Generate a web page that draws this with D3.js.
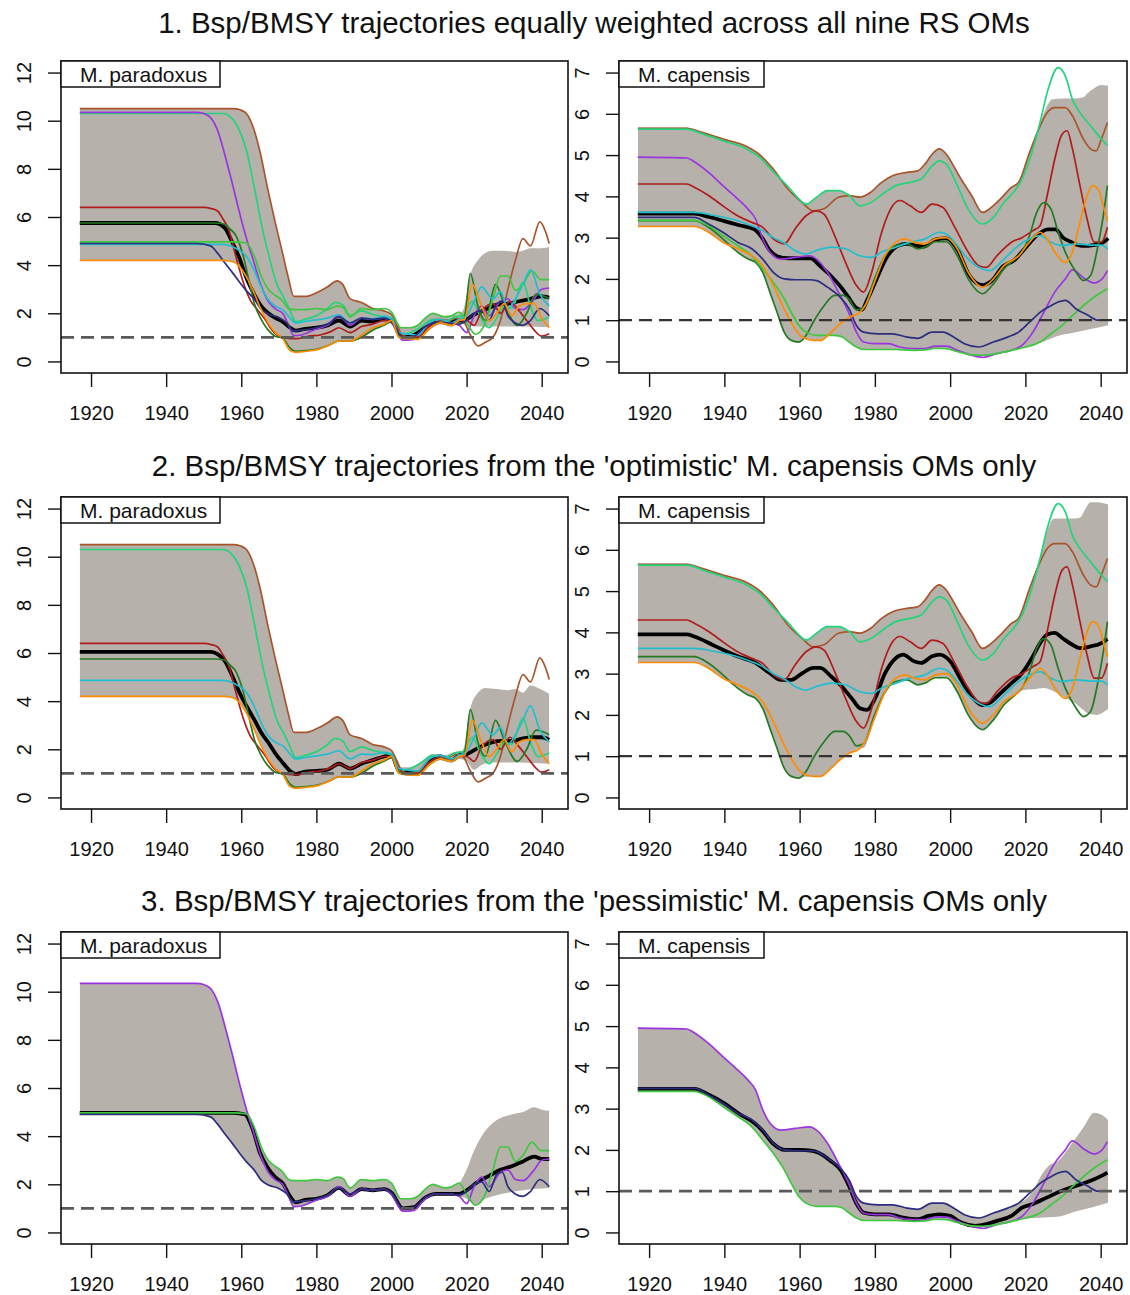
<!DOCTYPE html>
<html>
<head>
<meta charset="utf-8">
<script src="https://cdn.jsdelivr.net/npm/d3@7"></script>
<style>
body { margin: 0; background: #fff; }
svg { display: block; }
text { font-family: "Liberation Sans", Arial, sans-serif; fill: #111; }
</style>
</head>
<body>
<svg id="chart" width="1130" height="1295"></svg>
<script>
// Bsp/BMSY trajectories, M. paradoxus (left) and M. capensis (right), 3 OM sets.
// Each OM trajectory is [year, Bsp/BMSY].

var titles = [
	"1. Bsp/BMSY trajectories equally weighted across all nine RS OMs",
	"2. Bsp/BMSY trajectories from the 'optimistic' M. capensis OMs only",
	"3. Bsp/BMSY trajectories from the 'pessimistic' M. capensis OMs only"
];
var species = ['M. paradoxus', 'M. capensis'];
var xTicks = [1920, 1940, 1960, 1980, 2000, 2020, 2040];
var parTicks = [0, 2, 4, 6, 8, 10, 12];
var capTicks = [0, 1, 2, 3, 4, 5, 6, 7];
var omNames = ['brown', 'spring', 'purple', 'darkred', 'darkgreen', 'lime', 'cyan', 'navy', 'orange'];
var optimisticOMs = ['brown', 'spring', 'darkred', 'darkgreen', 'cyan', 'orange'];
var pessimisticOMs = ['purple', 'lime', 'navy'];

// ---- M. paradoxus ----
var parBrown = [[1917,10.5],[1958,10.5],[1961,10.35],[1963,9.8],[1965,8.7],[1967,7.2],[1969,5.8],[1971,4.5],[1972.5,3.5],[1974,2.7],[1977,2.7],[1980,2.85],[1983,3.1],[1985.5,3.35],[1987,3.2],[1989,2.6],[1992,2.45],[1995,2.2],[1998,2.1],[2000,1.95],[2001.5,1.5],[2003,1.05],[2005,1.0],[2007,1.05],[2009,1.4],[2011,1.7],[2013,1.75],[2015,1.65],[2017,1.8],[2019,1.7],[2021,1.1],[2023,0.65],[2025,0.8],[2027,1.0],[2029,1.7],[2031,3.0],[2033,4.2],[2035,5.1],[2037,4.8],[2039.5,5.8],[2041,5.4],[2042,4.9]];
var parSpring = [[1917,10.3],[1955,10.3],[1957.5,10.1],[1959.5,9.6],[1961.5,8.7],[1963.5,7.2],[1965.5,5.6],[1967.5,4.3],[1969.5,3.2],[1971.5,2.6],[1973,2.1],[1974.5,1.65],[1977,1.75],[1980,1.9],[1983,2.2],[1985,2.45],[1987,2.35],[1989,1.9],[1992,2.1],[1995,1.95],[1998,1.85],[2000,1.75],[2002,1.1],[2005,1.2],[2008,1.45],[2011,1.75],[2014,1.65],[2017,1.85],[2019,1.9],[2021.5,2.5],[2023.5,1.9],[2026,1.4],[2028,1.8],[2030,2.3],[2032,2.2],[2035,3.3],[2037,2.3],[2039,1.7],[2042,1.85]];
var parPurple = [[1917,10.35],[1948,10.35],[1950,10.3],[1952,10.1],[1953.7,9.6],[1955.6,8.6],[1957.6,7.4],[1959.5,6.2],[1961.4,5.1],[1963.4,4.1],[1965.3,3.15],[1967.2,2.5],[1969.2,2.17],[1971,2.0],[1972.6,1.5],[1974,1.07],[1976,1.1],[1980,1.35],[1983,1.5],[1986,1.9],[1989,1.5],[1992,1.8],[1995,1.75],[1998,1.8],[2000,1.6],[2003,0.88],[2006,0.92],[2009,1.4],[2012,1.6],[2015,1.6],[2018,1.5],[2020,1.2],[2022,1.9],[2024,2.3],[2026,1.9],[2029,2.5],[2031,2.6],[2033,2.2],[2035,2.15],[2038,2.6],[2040,3.0],[2042,3.05]];
var parDarkRed = [[1917,6.4],[1950,6.4],[1952,6.35],[1953.7,6.25],[1955,5.95],[1956.6,5.5],[1958.5,4.4],[1960.5,3.3],[1962.4,2.55],[1964.3,2.15],[1966.3,1.75],[1968.2,1.3],[1970,1.05],[1973,0.95],[1975,0.95],[1978,1.05],[1981,1.1],[1984,1.25],[1986,1.4],[1989,1.2],[1992,1.45],[1995,1.55],[1998,1.7],[2000,1.7],[2002,1.2],[2004,1.0],[2007,1.0],[2010,1.45],[2013,1.7],[2016,1.55],[2018,1.7],[2020,1.7],[2022,1.5],[2024,2.1],[2027,2.4],[2029,2.0],[2031.5,2.5],[2034,2.1],[2036,1.7],[2038,1.3],[2040,1.05],[2042,1.15]];
var parDarkGreen = [[1917,5.75],[1953,5.75],[1955.6,5.7],[1957,5.5],[1958.5,5.25],[1960.5,4.4],[1962.4,3.1],[1963.5,2.4],[1965.3,1.75],[1967.2,1.3],[1969,1.05],[1971,0.97],[1973,0.55],[1974.5,0.42],[1977,0.45],[1980,0.5],[1983,0.65],[1986,0.85],[1989,0.85],[1992,1.0],[1995,1.3],[1998,1.5],[2000,1.65],[2002,1.05],[2004,0.95],[2007,0.95],[2010,1.35],[2013,1.6],[2016,1.5],[2018,1.7],[2019.5,1.9],[2021,3.65],[2023,2.3],[2025,1.7],[2027.7,3.2],[2030,2.4],[2033.5,1.5],[2036,2.0],[2038.5,2.8],[2040,2.75],[2042,2.6]];
var parLime = [[1917,4.97],[1958,4.97],[1961.4,4.92],[1963.4,4.4],[1965.3,3.56],[1967.2,3.0],[1969.2,2.73],[1971,2.52],[1972.6,2.2],[1974,2.15],[1977,2.15],[1980,2.2],[1983,2.15],[1985.5,2.3],[1987,2.25],[1989,1.85],[1992,2.2],[1995,2.15],[1998,2.2],[2000,2.05],[2002.5,1.4],[2005,1.4],[2007,1.5],[2009,1.8],[2011,2.0],[2014,1.85],[2016,1.9],[2018,2.05],[2020,1.6],[2022.4,1.13],[2025,1.6],[2027,2.6],[2029,3.55],[2031,3.55],[2033,2.95],[2035,3.2],[2037.4,3.75],[2039.8,3.4],[2042,3.4]];
var parCyan = [[1917,4.86],[1955,4.86],[1958.5,4.7],[1961.4,4.36],[1963.4,3.8],[1965.3,3.1],[1967.2,2.56],[1969.2,2.28],[1971,2.15],[1973,1.8],[1974.5,1.6],[1977,1.66],[1980,1.73],[1983,1.8],[1986,1.94],[1989,1.6],[1992,1.8],[1995,1.78],[1998,1.87],[2000,1.8],[2002,1.2],[2004,1.15],[2007,1.1],[2010,1.6],[2013,1.75],[2016,1.6],[2018,1.75],[2020,1.9],[2022,2.5],[2024,3.1],[2027,2.6],[2029,2.9],[2031,2.2],[2033,2.6],[2035,3.2],[2037,3.8],[2039.5,2.8],[2042,2.3]];
var parNavy = [[1917,4.9],[1948,4.9],[1951.8,4.8],[1953.7,4.5],[1955.6,4.1],[1957.6,3.7],[1959.5,3.3],[1961.4,2.93],[1963.4,2.6],[1965.3,2.17],[1967.2,1.97],[1970,1.83],[1972,1.62],[1974,1.27],[1976,1.3],[1980,1.4],[1983,1.55],[1986,1.85],[1989,1.6],[1992,1.8],[1995,1.75],[1998,1.8],[2000,1.65],[2003,1.0],[2006,1.05],[2009,1.45],[2012,1.6],[2015,1.6],[2018,1.55],[2020,1.7],[2022,2.0],[2024,2.1],[2026,1.7],[2028,2.4],[2029.5,2.5],[2031,1.9],[2033,1.6],[2035,1.5],[2037,1.7],[2039.5,2.2],[2042,1.9]];
var parOrange = [[1917,4.2],[1955,4.2],[1957.6,4.15],[1959.5,3.95],[1961.4,3.5],[1963.4,2.85],[1965.3,2.15],[1967.2,1.6],[1969.2,1.18],[1971,0.97],[1973,0.45],[1974.5,0.38],[1977,0.42],[1980,0.48],[1983,0.65],[1986,0.85],[1989,0.85],[1992,1.1],[1995,1.4],[1998,1.55],[2000,1.7],[2002,1.0],[2004,0.95],[2007,0.92],[2010,1.35],[2013,1.6],[2016,1.5],[2018,1.7],[2019.5,1.75],[2021.5,3.2],[2024,2.3],[2026,1.7],[2028,2.0],[2030,2.4],[2032,1.9],[2034,2.3],[2036,2.4],[2038,2.4],[2040,1.8],[2042,1.4]];

var parMedAll = [[1917,5.75],[1953,5.75],[1955.6,5.55],[1957.6,4.95],[1959.5,4.3],[1961.4,3.45],[1963.4,2.8],[1965.3,2.3],[1967.2,2.0],[1969.2,1.8],[1971,1.65],[1973,1.4],[1974.5,1.28],[1977,1.35],[1980,1.4],[1983,1.5],[1986,1.7],[1989,1.45],[1992,1.7],[1995,1.65],[1998,1.75],[2000,1.7],[2003,1.0],[2006,1.1],[2009,1.4],[2012,1.65],[2015,1.65],[2018,1.7],[2020,1.75],[2022,1.95],[2025,2.15],[2028,2.35],[2031,2.4],[2034,2.5],[2037,2.6],[2040,2.7],[2042,2.65]];
var parMedOpt = [[1917,6.05],[1952,6.05],[1953.7,5.95],[1955.6,5.67],[1957.6,5.05],[1959.5,4.36],[1961.4,3.8],[1963.4,3.25],[1965.3,2.7],[1967.2,2.28],[1969.2,1.8],[1971,1.45],[1973,1.1],[1974.5,0.97],[1977,1.07],[1980,1.1],[1983,1.15],[1986,1.4],[1989,1.2],[1992,1.4],[1995,1.55],[1998,1.7],[2000,1.75],[2002,1.1],[2004,1.05],[2007,1.0],[2010,1.5],[2013,1.7],[2016,1.55],[2018,1.75],[2020,1.8],[2023,2.05],[2026,2.25],[2029,2.35],[2032,2.35],[2035,2.45],[2038,2.5],[2040,2.5],[2042,2.4]];
var parMedPess = [[1917,4.97],[1958,4.97],[1961,4.9],[1963,4.3],[1965,3.3],[1967,2.7],[1969,2.3],[1971,2.05],[1973,1.5],[1974.5,1.25],[1977,1.35],[1980,1.4],[1983,1.55],[1986,1.85],[1989,1.55],[1992,1.8],[1995,1.75],[1998,1.8],[2000,1.65],[2003,1.0],[2006,1.05],[2009,1.45],[2012,1.6],[2015,1.6],[2018,1.6],[2020,1.75],[2023,2.1],[2026,2.35],[2029,2.6],[2032,2.75],[2035,2.95],[2038,3.15],[2040,3.05],[2042,3.05]];

var parUpAll = [[1917,10.5],[1958,10.5],[1961,10.35],[1963,9.8],[1965,8.7],[1967,7.2],[1969,5.8],[1971,4.5],[1972.5,3.5],[1974,2.7],[1977,2.7],[1980,2.85],[1983,3.1],[1985.5,3.35],[1987,3.2],[1989,2.6],[1992,2.45],[1995,2.2],[1998,2.1],[2000,2.0],[2002,1.45],[2005,1.4],[2007,1.5],[2009,1.8],[2011,2.0],[2014,1.9],[2017,1.95],[2019,2.1],[2021,3.6],[2023,4.2],[2025,4.5],[2027,4.6],[2030,4.6],[2033,4.55],[2035,4.6],[2037,4.7],[2040,4.7],[2042,4.75]];
var parLoAll = [[1917,4.2],[1955,4.2],[1957.5,4.15],[1959.5,3.95],[1961.5,3.5],[1963.5,2.85],[1965.5,2.15],[1967.5,1.6],[1969.5,1.15],[1971,0.95],[1973,0.5],[1974.5,0.38],[1977,0.42],[1980,0.48],[1983,0.65],[1986,0.85],[1989,0.85],[1992,1.0],[1995,1.3],[1998,1.5],[2000,1.6],[2002,1.0],[2004,0.92],[2007,0.9],[2010,1.35],[2013,1.55],[2016,1.45],[2018,1.6],[2020,1.55],[2023,1.45],[2030,1.45],[2036,1.45],[2042,1.42]];
var parUpOpt = [[1917,10.5],[1958,10.5],[1961,10.35],[1963,9.8],[1965,8.7],[1967,7.2],[1969,5.8],[1971,4.5],[1972.5,3.5],[1974,2.7],[1977,2.7],[1980,2.85],[1983,3.1],[1985.5,3.35],[1987,3.2],[1989,2.6],[1992,2.45],[1995,2.2],[1998,2.1],[2000,1.95],[2002,1.25],[2005,1.25],[2008,1.5],[2011,1.8],[2014,1.75],[2017,1.9],[2019,1.95],[2021,3.7],[2023,4.35],[2025,4.55],[2028,4.5],[2031,4.45],[2033,4.5],[2035,4.35],[2037,4.65],[2039,4.55],[2042,4.3]];
var parLoOpt = [[1917,4.2],[1955,4.2],[1957.5,4.15],[1959.5,3.95],[1961.5,3.5],[1963.5,2.85],[1965.5,2.15],[1967.5,1.6],[1969.5,1.15],[1971,0.95],[1973,0.5],[1974.5,0.38],[1977,0.42],[1980,0.48],[1983,0.65],[1986,0.85],[1989,0.85],[1992,1.0],[1995,1.3],[1998,1.5],[2000,1.6],[2002,1.0],[2004,0.92],[2007,0.9],[2010,1.35],[2013,1.55],[2016,1.45],[2018,1.6],[2020,1.5],[2022,1.15],[2024,1.35],[2027,1.45],[2034,1.45],[2042,1.4]];
var parUpPess = [[1917,10.35],[1948,10.35],[1950,10.3],[1952,10.1],[1953.7,9.6],[1955.6,8.6],[1957.6,7.4],[1959.5,6.2],[1961.4,5.1],[1962.5,4.8],[1963.4,4.4],[1965.3,3.56],[1967.2,3.0],[1969.2,2.73],[1971,2.52],[1972.6,2.2],[1974,2.15],[1977,2.15],[1980,2.2],[1983,2.15],[1985.5,2.3],[1987,2.25],[1989,1.85],[1992,2.2],[1995,2.15],[1998,2.2],[2000,2.05],[2002.5,1.4],[2005,1.4],[2007,1.5],[2009,1.8],[2011,2.0],[2014,1.85],[2016,1.9],[2018,2.05],[2020,2.6],[2022,3.4],[2024,4.0],[2026,4.4],[2029,4.75],[2032,4.9],[2035,5.0],[2038,5.2],[2040,5.1],[2042,5.05]];
var parLoPess = [[1917,4.9],[1948,4.9],[1951.8,4.8],[1953.7,4.5],[1955.6,4.1],[1957.6,3.7],[1959.5,3.3],[1961.4,2.93],[1963.4,2.6],[1965.3,2.17],[1967.2,1.97],[1970,1.83],[1972,1.6],[1974,1.05],[1976,1.08],[1980,1.3],[1983,1.45],[1986,1.8],[1989,1.45],[1992,1.75],[1995,1.7],[1998,1.75],[2000,1.55],[2003,0.86],[2006,0.9],[2009,1.35],[2012,1.55],[2015,1.55],[2018,1.5],[2020,1.4],[2022.4,1.13],[2025,1.4],[2028,1.55],[2031,1.65],[2035,1.75],[2038,1.8],[2042,1.85]];

// ---- M. capensis ----
var capBrown = [[1917,5.65],[1930,5.65],[1934,5.55],[1939.6,5.39],[1945.4,5.23],[1949.2,5.02],[1953,4.66],[1956.9,4.18],[1960.7,3.85],[1963.6,3.65],[1966.5,3.7],[1970.3,3.98],[1973.2,4.02],[1976,3.98],[1978.9,4.1],[1981.8,4.34],[1984.7,4.5],[1988.5,4.58],[1991.4,4.62],[1993.3,4.78],[1995.2,5.02],[1997.1,5.15],[1999,5.02],[2000.9,4.74],[2002.9,4.42],[2005.7,4.02],[2008.6,3.61],[2010.5,3.7],[2013.4,3.94],[2016.3,4.22],[2018.2,4.34],[2021.1,5.06],[2023.9,5.7],[2025.8,6.03],[2027.8,6.15],[2030.6,6.15],[2032.5,5.95],[2035.4,5.39],[2037.3,5.15],[2038.8,5.1],[2040.2,5.39],[2041.8,5.79]];
var capSpring = [[1917,5.63],[1930,5.63],[1934,5.52],[1939.6,5.35],[1945.4,5.17],[1949.2,4.96],[1953,4.6],[1956.9,4.24],[1959.8,3.94],[1961.7,3.81],[1964.5,3.98],[1967.4,4.14],[1970.3,4.14],[1973.2,4.02],[1976,3.77],[1978.9,3.85],[1982.7,4.1],[1985.6,4.26],[1989.4,4.34],[1992.3,4.42],[1995.2,4.74],[1997.1,4.86],[1999,4.78],[2001.9,4.26],[2004.8,3.69],[2008.6,3.33],[2011.5,3.49],[2014.3,3.85],[2017.2,4.14],[2019.1,4.42],[2022,5.15],[2023.9,5.79],[2025.8,6.52],[2028.7,7.12],[2030.6,6.92],[2032.5,6.35],[2034.5,6.03],[2037.3,5.71],[2040.2,5.39],[2041.8,5.23]];
var capPurple = [[1917,4.95],[1930,4.93],[1932,4.84],[1935.8,4.58],[1939.6,4.26],[1943.5,3.94],[1946.3,3.69],[1948.3,3.45],[1950.2,2.97],[1952.1,2.65],[1955,2.48],[1958.8,2.52],[1962.6,2.56],[1964.5,2.48],[1967.4,2.16],[1970.3,1.68],[1973.2,1.15],[1975.1,0.71],[1977,0.47],[1979.9,0.43],[1983.7,0.43],[1986.6,0.35],[1990.4,0.31],[1993.3,0.31],[1996.1,0.37],[1999,0.37],[2001.9,0.27],[2005.7,0.15],[2008.6,0.1],[2012.4,0.19],[2016.3,0.27],[2019.1,0.39],[2022,0.71],[2024.9,1.19],[2027.8,1.68],[2030.6,2.0],[2032.5,2.22],[2035.4,2.03],[2038.3,1.9],[2040.2,1.98],[2041.8,2.2]];
var capDarkRed = [[1917,4.3],[1930,4.3],[1932,4.22],[1935.8,4.02],[1939.6,3.77],[1943.5,3.53],[1947.3,3.37],[1950.2,3.25],[1953,2.97],[1955.9,2.85],[1958.8,3.21],[1961.7,3.53],[1964.5,3.65],[1966.5,3.57],[1969.3,3.05],[1972.2,2.4],[1975.1,1.84],[1977,1.68],[1978.9,2.08],[1981.8,3.13],[1984.7,3.77],[1986.6,3.9],[1989.4,3.77],[1992.3,3.61],[1995.2,3.81],[1998.1,3.73],[2001,3.29],[2004.8,2.65],[2007.6,2.32],[2009.6,2.28],[2012.4,2.56],[2016.3,2.89],[2019.1,3.0],[2022,3.17],[2023.9,3.29],[2025.8,4.02],[2027.8,4.9],[2029.7,5.5],[2031.1,5.59],[2032.5,5.15],[2034.5,4.26],[2036.4,3.45],[2038.3,2.89],[2040.2,2.89],[2041.8,3.25]];
var capDarkGreen = [[1917,3.41],[1932,3.41],[1935.8,3.25],[1939.6,2.97],[1943.5,2.65],[1946.3,2.48],[1948.3,2.4],[1950.2,2.16],[1952.1,1.68],[1954,1.19],[1955.9,0.71],[1957.8,0.51],[1959.8,0.47],[1961.7,0.63],[1963.6,0.95],[1966.5,1.35],[1969.3,1.6],[1971.5,1.6],[1973.2,1.5],[1975.1,1.25],[1977,1.3],[1979.9,2.0],[1982.7,2.56],[1985.6,2.81],[1988.5,2.85],[1991.4,2.73],[1993.3,2.77],[1996.1,2.9],[1999,2.9],[2001.9,2.56],[2004.8,2.0],[2007.6,1.68],[2008.6,1.64],[2011.5,1.88],[2014.3,2.24],[2017.2,2.48],[2019.1,2.65],[2021.1,3.05],[2023,3.61],[2024.9,3.85],[2026.8,3.69],[2028.7,3.13],[2030.6,2.65],[2033.5,2.16],[2035.4,1.96],[2037.3,2.08],[2039.3,2.81],[2040.7,3.53],[2041.8,4.26]];
var capLime = [[1917,3.42],[1932,3.42],[1935.8,3.29],[1939.6,3.05],[1943.5,2.81],[1947.3,2.56],[1950.2,2.24],[1953,1.92],[1955.9,1.52],[1957.8,1.19],[1959.8,0.87],[1961.7,0.71],[1964.5,0.63],[1969.3,0.63],[1971.2,0.6],[1973.2,0.47],[1975.1,0.35],[1977,0.29],[1985.6,0.29],[1990.4,0.27],[1993.3,0.28],[1996.1,0.32],[1999,0.31],[2001.9,0.24],[2005.7,0.16],[2008.6,0.15],[2012.4,0.19],[2016.3,0.27],[2020.1,0.35],[2023.9,0.47],[2026.8,0.67],[2029.7,0.87],[2032.5,1.11],[2035.4,1.35],[2038.3,1.56],[2041.8,1.76]];
var capCyan = [[1917,3.61],[1932,3.61],[1937.7,3.53],[1943.5,3.41],[1947.3,3.29],[1950.2,3.17],[1953,3.0],[1955.9,2.87],[1958.8,2.69],[1961.7,2.6],[1964.5,2.69],[1968.4,2.77],[1972.2,2.73],[1976,2.56],[1978.9,2.52],[1981.8,2.65],[1985.6,2.77],[1989.4,2.89],[1993.3,2.97],[1997.1,3.13],[1999,3.09],[2001.9,2.81],[2004.8,2.48],[2008.6,2.24],[2010.5,2.2],[2014.3,2.48],[2018.2,2.81],[2021.1,2.97],[2023.9,3.05],[2026.8,2.89],[2029.7,2.81],[2033.5,2.85],[2037.3,2.82],[2040.2,2.82],[2041.8,2.73]];
var capNavy = [[1917,3.49],[1932,3.49],[1935.8,3.33],[1939.6,3.13],[1943.5,2.89],[1947.3,2.73],[1950.2,2.48],[1953,2.16],[1955.9,2.0],[1958.8,1.98],[1962.6,1.98],[1964.5,1.96],[1967.4,1.8],[1970.3,1.6],[1973.2,1.27],[1975.1,0.87],[1977,0.71],[1980.8,0.67],[1984.7,0.67],[1988.5,0.59],[1991.4,0.56],[1995.2,0.71],[1998.1,0.71],[2000.9,0.59],[2003.8,0.43],[2007.6,0.35],[2011.5,0.47],[2015.3,0.59],[2018.2,0.71],[2021.1,0.95],[2023.9,1.19],[2026.8,1.35],[2028.7,1.44],[2030.6,1.48],[2033.5,1.27],[2036.4,1.13],[2039.3,1.0],[2041.8,1.0]];
var capOrange = [[1917,3.27],[1932,3.27],[1935.8,3.13],[1939.6,2.89],[1943.5,2.73],[1947.3,2.56],[1950.2,2.32],[1953,1.84],[1955.9,1.27],[1958.8,0.79],[1960.7,0.59],[1963.6,0.51],[1965.5,0.51],[1968.4,0.71],[1971.2,0.95],[1973.2,1.07],[1976,1.19],[1977.9,1.44],[1979.9,1.92],[1982.7,2.56],[1985.6,2.89],[1988,2.97],[1990.4,2.89],[1993.3,2.85],[1996.1,2.97],[1999,3.0],[2001.9,2.73],[2004.8,2.16],[2008.6,1.8],[2011.5,2.0],[2014.3,2.32],[2018.2,2.56],[2021.1,2.89],[2023.9,3.13],[2025.8,2.97],[2027.8,2.65],[2030.6,2.4],[2032.5,2.65],[2034.5,3.37],[2036.4,4.02],[2037.8,4.26],[2039.3,4.18],[2040.7,3.77],[2041.8,3.41]];

var capMedAll = [[1917,3.58],[1932,3.58],[1936,3.5],[1940,3.4],[1944,3.3],[1948,3.2],[1950,3.0],[1952,2.7],[1954,2.55],[1957,2.5],[1960,2.5],[1963,2.5],[1965,2.35],[1968,2.1],[1971,1.8],[1973,1.55],[1975,1.3],[1976.5,1.25],[1978,1.5],[1980,1.9],[1983,2.5],[1986,2.8],[1988.5,2.85],[1991,2.8],[1993,2.78],[1996,2.95],[1999,2.98],[2002,2.7],[2005,2.1],[2008.5,1.85],[2011,1.95],[2014,2.3],[2017,2.45],[2020,2.75],[2023,3.05],[2026,3.2],[2028,3.2],[2030,3.0],[2032,2.9],[2034,2.82],[2036,2.8],[2038,2.82],[2040,2.85],[2042,2.98]];
var capMedOpt = [[1917,3.95],[1930,3.95],[1932,3.9],[1937.7,3.66],[1943.5,3.42],[1948.3,3.26],[1952.1,3.01],[1955,2.85],[1957.8,2.85],[1960.7,3.01],[1963.6,3.14],[1965.5,3.14],[1968.4,2.93],[1971.2,2.69],[1974.1,2.37],[1976,2.16],[1977.9,2.12],[1979.9,2.37],[1982.7,3.01],[1985.6,3.38],[1987.5,3.46],[1990.4,3.3],[1992.3,3.26],[1995.2,3.42],[1997.1,3.46],[2000,3.3],[2002.9,2.85],[2005.7,2.45],[2008.6,2.24],[2010.5,2.29],[2013.4,2.53],[2016.3,2.77],[2019.1,3.01],[2022,3.42],[2023.9,3.74],[2025.8,3.95],[2027.8,3.99],[2029.7,3.87],[2032.5,3.7],[2034.5,3.62],[2037.3,3.66],[2040.2,3.74],[2041.8,3.84]];
var capMedPess = [[1917,3.48],[1932,3.48],[1936,3.33],[1940,3.13],[1944,2.87],[1948,2.65],[1950,2.48],[1953,2.15],[1956,2.0],[1960,2.0],[1963,1.98],[1965,1.93],[1968,1.75],[1971,1.5],[1973,1.15],[1975,0.72],[1977,0.48],[1980,0.44],[1983.7,0.44],[1987.5,0.36],[1991.4,0.32],[1994.2,0.4],[1997.1,0.44],[2000,0.4],[2002.9,0.24],[2006.7,0.16],[2009.6,0.2],[2012.4,0.28],[2016.3,0.4],[2019.1,0.6],[2022,0.69],[2025.8,0.85],[2029.7,1.01],[2033.5,1.13],[2037.3,1.25],[2040.2,1.37],[2041.8,1.45]];

var capUpAll = [[1917,5.67],[1930,5.67],[1934,5.57],[1939.6,5.4],[1945.4,5.24],[1949.2,5.03],[1953,4.67],[1956.9,4.2],[1960.7,3.87],[1962.5,3.84],[1964.5,3.99],[1967.4,4.15],[1970.3,4.15],[1973.2,4.04],[1976,3.99],[1978.9,4.11],[1981.8,4.35],[1984.7,4.51],[1988.5,4.59],[1991.4,4.63],[1993.3,4.79],[1995.2,5.03],[1997.1,5.16],[1999,5.03],[2000.9,4.75],[2002.9,4.43],[2005.7,4.03],[2008.6,3.62],[2010.5,3.71],[2013.4,3.95],[2016.3,4.23],[2018.2,4.35],[2021.1,5.07],[2023.9,5.75],[2025.8,6.2],[2027,6.35],[2030,6.37],[2033,6.37],[2035.4,6.4],[2036.5,6.5],[2038,6.6],[2040,6.7],[2042,6.68]];
var capLoAll = [[1917,3.27],[1932,3.27],[1935.8,3.13],[1939.6,2.89],[1943.5,2.65],[1946.3,2.48],[1948.3,2.4],[1950.2,2.16],[1952.1,1.68],[1954,1.19],[1955.9,0.71],[1957.8,0.51],[1959.8,0.47],[1961.7,0.55],[1964.5,0.5],[1966,0.51],[1968,0.62],[1971.2,0.58],[1973.2,0.45],[1975.1,0.33],[1977,0.28],[1985.6,0.28],[1990.4,0.26],[1996.1,0.31],[1999,0.3],[2001.9,0.23],[2005.7,0.15],[2008.6,0.13],[2012.4,0.18],[2016.3,0.26],[2020.1,0.34],[2024,0.45],[2028,0.6],[2033,0.7],[2038,0.8],[2042,0.88]];
var capUpOpt = [[1917,5.67],[1930,5.67],[1934,5.57],[1939.6,5.4],[1945.4,5.24],[1949.2,5.03],[1953,4.67],[1956.9,4.2],[1960.7,3.87],[1962.5,3.84],[1964.5,3.99],[1967.4,4.15],[1970.3,4.15],[1973.2,4.04],[1976,3.99],[1978.9,4.11],[1981.8,4.35],[1984.7,4.51],[1988.5,4.59],[1991.4,4.63],[1993.3,4.79],[1995.2,5.03],[1997.1,5.16],[1999,5.03],[2000.9,4.75],[2002.9,4.43],[2005.7,4.03],[2008.6,3.62],[2010.5,3.71],[2013.4,3.95],[2016.3,4.23],[2018.2,4.35],[2021.1,5.07],[2023.9,5.8],[2025.8,6.45],[2027.5,6.75],[2030,6.76],[2033,6.76],[2034.5,6.78],[2036,7.0],[2037.3,7.15],[2039,7.15],[2041,7.12],[2042,7.1]];
var capLoOpt = [[1917,3.27],[1932,3.27],[1935.8,3.13],[1939.6,2.89],[1943.5,2.65],[1946.3,2.48],[1948.3,2.4],[1950.2,2.16],[1952.1,1.68],[1954,1.19],[1955.9,0.71],[1957.8,0.51],[1959.8,0.47],[1961.7,0.5],[1963.6,0.5],[1965.5,0.5],[1968.4,0.71],[1971.2,0.95],[1973.2,1.07],[1976,1.19],[1977,1.2],[1979.9,1.92],[1982.7,2.5],[1985.6,2.8],[1988.5,2.85],[1991.4,2.73],[1993.3,2.77],[1996.1,2.9],[1999,2.9],[2001.9,2.56],[2004.8,2.0],[2007.6,1.68],[2008.6,1.64],[2011.5,1.88],[2014.3,2.24],[2017.2,2.45],[2019.1,2.6],[2022,2.62],[2025,2.65],[2028,2.55],[2031,2.4],[2033,2.3],[2035,2.15],[2037,2.02],[2039,2.0],[2041,2.08],[2042,2.15]];
var capUpPess = [[1917,4.95],[1930,4.93],[1932,4.84],[1935.8,4.58],[1939.6,4.26],[1943.5,3.94],[1946.3,3.69],[1948.3,3.45],[1950.2,2.97],[1952.1,2.65],[1955,2.48],[1958.8,2.52],[1962.6,2.56],[1964.5,2.48],[1967.4,2.16],[1970.3,1.68],[1973.2,1.27],[1975.1,0.87],[1977,0.71],[1980.8,0.67],[1984.7,0.67],[1988.5,0.59],[1991.4,0.56],[1995.2,0.71],[1998.1,0.71],[2000.9,0.59],[2003.8,0.43],[2007.6,0.35],[2011.5,0.47],[2015.3,0.59],[2018.2,0.71],[2020,0.8],[2022,1.0],[2024,1.35],[2026,1.6],[2028.7,1.73],[2031.6,2.06],[2035.4,2.54],[2038.3,2.9],[2040.2,2.85],[2042,2.72]];
var capLoPess = [[1917,3.42],[1932,3.42],[1935.8,3.29],[1939.6,3.05],[1943.5,2.81],[1947.3,2.56],[1950.2,2.24],[1953,1.92],[1955.9,1.52],[1957.8,1.19],[1959.8,0.87],[1961.7,0.71],[1964.5,0.63],[1969.3,0.63],[1971.2,0.6],[1973.2,0.47],[1975.1,0.35],[1977,0.29],[1990.4,0.27],[1996.1,0.32],[1999,0.31],[2001.9,0.24],[2005.7,0.16],[2008.6,0.15],[2012.4,0.19],[2016.3,0.27],[2020,0.33],[2025,0.36],[2029.7,0.4],[2033,0.5],[2037.3,0.6],[2042,0.72]];

var omColor = {
	brown: '#a8552c', spring: '#22d47a', purple: '#9b35e0', darkred: '#b01c1c', darkgreen: '#237a23',
	lime: '#3ec83e', cyan: '#1fbfd0', navy: '#2d2d80', orange: '#ff8c00'
};
var parOM = {brown: parBrown, spring: parSpring, purple: parPurple, darkred: parDarkRed, darkgreen: parDarkGreen,
	lime: parLime, cyan: parCyan, navy: parNavy, orange: parOrange};
var capOM = {brown: capBrown, spring: capSpring, purple: capPurple, darkred: capDarkRed, darkgreen: capDarkGreen,
	lime: capLime, cyan: capCyan, navy: capNavy, orange: capOrange};

var rows = [
	{oms: omNames, par: {med: parMedAll, up: parUpAll, lo: parLoAll}, cap: {med: capMedAll, up: capUpAll, lo: capLoAll}},
	{oms: optimisticOMs, par: {med: parMedOpt, up: parUpOpt, lo: parLoOpt}, cap: {med: capMedOpt, up: capUpOpt, lo: capLoOpt}},
	{oms: pessimisticOMs, par: {med: parMedPess, up: parUpPess, lo: parLoPess}, cap: {med: capMedPess, up: capUpPess, lo: capLoPess}}
];

var svg = d3.select('#chart');
var rowTop = [61, 497, 932];
var titleY = [33, 476, 911];
var frameH = 312;
var panelX = [[61, 568], [619, 1127]];
var envFill = '#b6b1ab';

function drawPanel(id, top, xr, yMax, ticks, label, boxW, lines, set, dash) {
	var g = svg.append('g');
	var x = d3.scaleLinear().domain([1912, 2047]).range(xr);
	var pad = yMax * 0.04;
	var y = d3.scaleLinear().domain([-pad, yMax + pad]).range([top + frameH, top]);
	var bottom = top + frameH;

	g.append('clipPath').attr('id', 'frame' + id)
		.append('rect').attr('x', xr[0]).attr('y', top).attr('width', xr[1] - xr[0]).attr('height', frameH);
	g.append('clipPath').attr('id', 'env' + id)
		.append('path')
		.attr('d', d3.area().x(function(d) { return x(d[0]); }).y0(top).y1(function(d) { return y(d[1]); })
			.curve(d3.curveMonotoneX)(set.lo));

	var plot = g.append('g').attr('clip-path', 'url(#frame' + id + ')');
	plot.append('g').attr('clip-path', 'url(#env' + id + ')')
		.append('path')
		.attr('d', d3.area().x(function(d) { return x(d[0]); }).y0(bottom).y1(function(d) { return y(d[1]); })
			.curve(d3.curveMonotoneX)(set.up))
		.attr('fill', envFill);

	var line = d3.line().x(function(d) { return x(d[0]); }).y(function(d) { return y(d[1]); }).curve(d3.curveMonotoneX);
	// median goes down first, the OM lines are drawn over it
	plot.append('path').attr('d', line(set.med)).attr('fill', 'none')
		.attr('stroke', '#000').attr('stroke-width', 3.8);
	lines.forEach(function(l) {
		plot.append('path').attr('d', line(l.data)).attr('fill', 'none')
			.attr('stroke', l.color).attr('stroke-width', 1.7);
	});

	g.append('line').attr('x1', xr[0]).attr('x2', xr[1]).attr('y1', y(1)).attr('y2', y(1))
		.attr('stroke', dash.color).attr('stroke-width', dash.width).attr('stroke-dasharray', '13,7');

	// axes
	var ax = g.append('g').attr('transform', 'translate(0,' + bottom + ')')
		.call(d3.axisBottom(x).tickValues(xTicks).tickFormat(d3.format('d')).tickSize(14).tickPadding(19));
	var ay = g.append('g').attr('transform', 'translate(' + xr[0] + ',0)')
		.call(d3.axisLeft(y).tickValues(ticks).tickSize(13));
	[ax, ay].forEach(function(a) {
		a.select('.domain').remove();
		a.selectAll('line').attr('stroke', '#111').attr('stroke-width', 1.4);
		a.selectAll('text').attr('font-size', 20).attr('font-family', '"Liberation Sans", Arial, sans-serif').attr('fill', '#111');
	});
	ay.selectAll('text')
		.attr('x', null).attr('dy', '0.36em')
		.attr('text-anchor', 'middle')
		.attr('transform', 'translate(-37,0) rotate(-90)');

	g.append('rect').attr('x', xr[0]).attr('y', top).attr('width', xr[1] - xr[0]).attr('height', frameH)
		.attr('fill', 'none').attr('stroke', '#111').attr('stroke-width', 1.6);

	g.append('rect').attr('x', xr[0]).attr('y', top).attr('width', boxW).attr('height', 26)
		.attr('fill', '#fff').attr('stroke', '#111').attr('stroke-width', 1.5);
	g.append('text').attr('x', xr[0] + 19).attr('y', top + 20.5)
		.attr('font-size', 21).text(label);
}

rows.forEach(function(row, r) {
	svg.append('text').attr('x', 594).attr('y', titleY[r]).attr('text-anchor', 'middle')
		.attr('font-size', 29.5).text(titles[r]);
	var parLines = row.oms.map(function(k) { return {data: parOM[k], color: omColor[k]}; });
	var capLines = row.oms.map(function(k) { return {data: capOM[k], color: omColor[k]}; });
	drawPanel('p' + r, rowTop[r], panelX[0], 12, parTicks, species[0], 159, parLines, row.par,
		{color: '#5a5a5a', width: 2.8});
	drawPanel('c' + r, rowTop[r], panelX[1], 7, capTicks, species[1], 145, capLines, row.cap,
		r === 2 ? {color: '#5a5a5a', width: 2.8} : {color: '#333', width: 2.2});
});
</script>
</body>
</html>
